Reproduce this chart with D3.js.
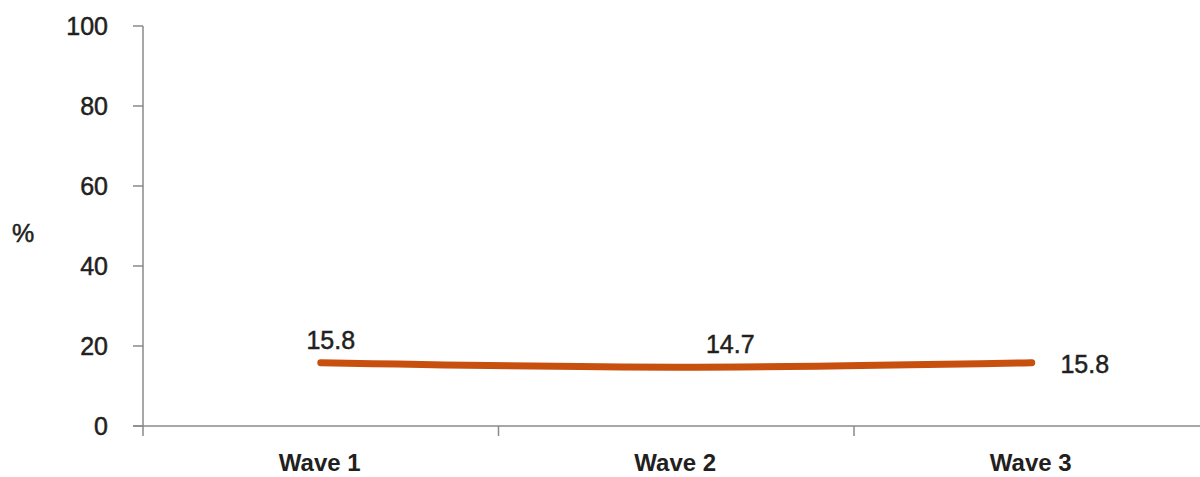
<!DOCTYPE html>
<html><head><meta charset="utf-8">
<script src="https://cdn.jsdelivr.net/npm/d3@7"></script>
<style>
html,body{margin:0;padding:0;background:#fff;}
svg{display:block;font-family:"Liberation Sans",Arial,Helvetica,sans-serif;}
.med{stroke:#231f20;stroke-width:0.5px;}
</style></head>
<body><svg id="c" width="1200" height="477"></svg>
<script>
const categories = ["Wave 1", "Wave 2", "Wave 3"];
const values = [15.8, 14.7, 15.8];
const valueLabels = ["15.8", "14.7", "15.8"];
const yTicks = [0, 20, 40, 60, 80, 100];
const yAxisTitle = "%";

const svg = d3.select("#c");
const x = d3.scaleBand().domain(categories).range([143, 1209.5]);
const y = d3.scaleLinear().domain([0, 100]).range([426, 26]);
const axisColor = "#8a8a8a";
const textColor = "#231f20";

// y axis line
svg.append("line").attr("x1", 143).attr("x2", 143).attr("y1", y(100)).attr("y2", y(0) + 10)
  .attr("stroke", axisColor).attr("stroke-width", 1.5);
// y ticks
svg.selectAll(".yt").data(yTicks).enter().append("line")
  .attr("x1", 133).attr("x2", 143).attr("y1", d => y(d)).attr("y2", d => y(d))
  .attr("stroke", axisColor).attr("stroke-width", 1.5);
svg.selectAll(".yl").data(yTicks).enter().append("text").attr("class", "med")
  .attr("x", 108).attr("y", d => y(d)).attr("dy", "0.36em")
  .attr("text-anchor", "end").attr("font-size", 25).attr("fill", textColor)
  .text(d => d);
// x axis line
svg.append("line").attr("x1", 133).attr("x2", 1200).attr("y1", y(0)).attr("y2", y(0))
  .attr("stroke", axisColor).attr("stroke-width", 1.5);
// x ticks at band boundaries
const bounds = categories.map(c => x(c)).concat([x(categories[categories.length-1]) + x.bandwidth()]);
svg.selectAll(".xt").data(bounds.slice(1)).enter().append("line")
  .attr("x1", d => d).attr("x2", d => d).attr("y1", y(0)).attr("y2", y(0) + 10)
  .attr("stroke", axisColor).attr("stroke-width", 1.5);
svg.selectAll(".xl").data(categories).enter().append("text")
  .attr("x", d => x(d) + x.bandwidth() / 2 - 1).attr("y", 471)
  .attr("text-anchor", "middle").attr("font-size", 24).attr("font-weight", "bold")
  .attr("fill", textColor).text(d => d);

// y title
svg.append("text").attr("class", "med").attr("x", 23).attr("y", 233).attr("dy", "0.36em")
  .attr("text-anchor", "middle").attr("font-size", 25).attr("fill", textColor).text(yAxisTitle);

// line
const cx = i => x(categories[i]) + x.bandwidth() / 2;
const line = d3.line().x((d, i) => cx(i)).y(d => y(d)).curve(d3.curveMonotoneX);
svg.append("path").datum(values).attr("d", line)
  .attr("fill", "none").attr("stroke", "#c8500e").attr("stroke-width", 7)
  .attr("stroke-linecap", "round").attr("stroke-linejoin", "round");

// value labels
const lblDx = [10, 54, 53];
const lblDy = [-14, -14, 10];
svg.selectAll(".vl").data(values).enter().append("text").attr("class", "med")
  .attr("x", (d, i) => cx(i) + lblDx[i]).attr("y", (d, i) => y(d) + lblDy[i])
  .attr("text-anchor", "middle").attr("font-size", 25).attr("fill", textColor)
  .text((d, i) => valueLabels[i]);
</script></body></html>
